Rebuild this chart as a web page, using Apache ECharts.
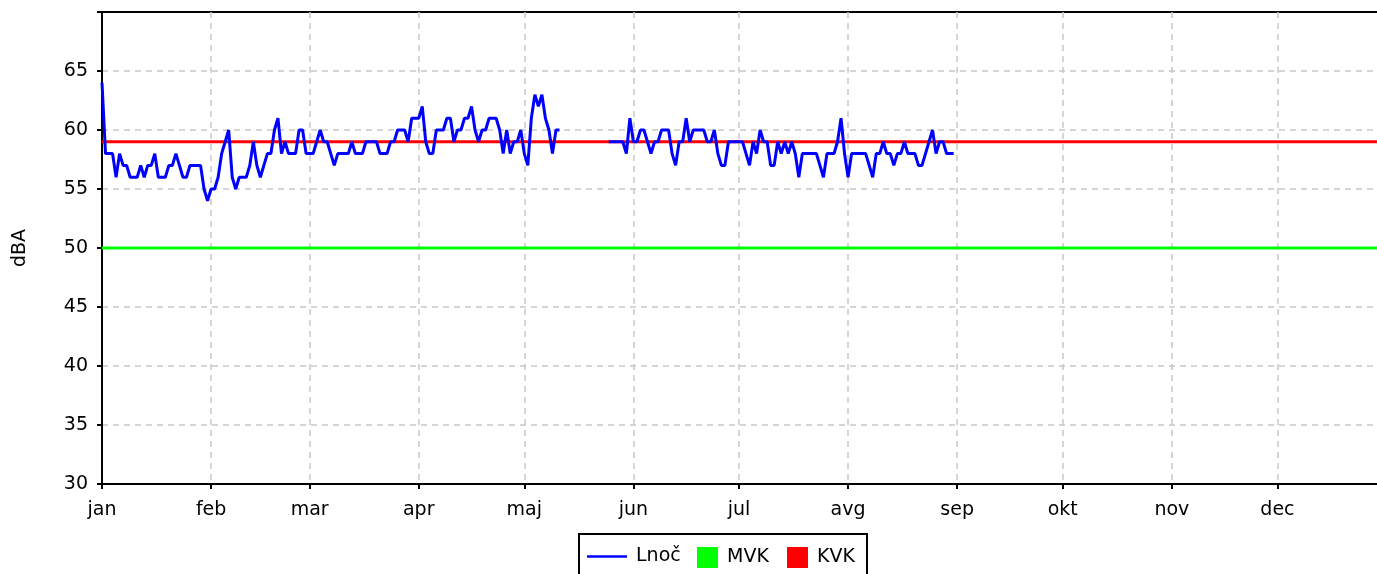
<!DOCTYPE html>
<html>
<head>
<meta charset="utf-8">
<script src="https://cdn.jsdelivr.net/npm/echarts@6/dist/echarts.min.js"></script>
<style>
  html, body { margin: 0; padding: 0; background: #ffffff; overflow: hidden; }
  #chart { width: 1377px; height: 574px; }
</style>
</head>
<body>
<div id="chart"></div>
<script>
// Month names (x-axis tick labels) and month lengths
const monthNames = ['jan', 'feb', 'mar', 'apr', 'maj', 'jun', 'jul', 'avg', 'sep', 'okt', 'nov', 'dec'];
const monthLengths = [31, 28, 31, 30, 31, 30, 31, 31, 30, 31, 30, 31];

// Daily night-time level Lnoč (dBA), one array per month; null = no measurement
const janVals = [64, 58, 58, 58, 56, 58, 57, 57, 56, 56, 56, 57, 56, 57, 57, 58, 56, 56, 56, 57, 57, 58, 57, 56, 56, 57, 57, 57, 57, 55, 54];
const febVals = [55, 55, 56, 58, 59, 60, 56, 55, 56, 56, 56, 57, 59, 57, 56, 57, 58, 58, 60, 61, 58, 59, 58, 58, 58, 60, 60, 58];
const marVals = [58, 58, 59, 60, 59, 59, 58, 57, 58, 58, 58, 58, 59, 58, 58, 58, 59, 59, 59, 59, 58, 58, 58, 59, 59, 60, 60, 60, 59, 61, 61];
const aprVals = [61, 62, 59, 58, 58, 60, 60, 60, 61, 61, 59, 60, 60, 61, 61, 62, 60, 59, 60, 60, 61, 61, 61, 60, 58, 60, 58, 59, 59, 60];
const majVals = [58, 57, 61, 63, 62, 63, 61, 60, 58, 60, 60,
                 null, null, null, null, null, null, null, null, null, null, null, null, null,
                 59, 59, 59, 59, 59, 58, 61];
const junVals = [59, 59, 60, 60, 59, 58, 59, 59, 60, 60, 60, 58, 57, 59, 59, 61, 59, 60, 60, 60, 60, 59, 59, 60, 58, 57, 57, 59, 59, 59];
const julVals = [59, 59, 58, 57, 59, 58, 60, 59, 59, 57, 57, 59, 58, 59, 58, 59, 58, 56, 58, 58, 58, 58, 58, 57, 56, 58, 58, 58, 59, 61, 58];
const avgVals = [56, 58, 58, 58, 58, 58, 57, 56, 58, 58, 59, 58, 58, 57, 58, 58, 59, 58, 58, 58, 57, 57, 58, 59, 60, 58, 59, 59, 58, 58, 58];
const sepVals = [];
const oktVals = [];
const novVals = [];
const decVals = [];

// Limit values (dBA)
const mvkLimit = 50;
const kvkLimit = 59;

// Y axis scale
const yMin = 30;
const yMax = 70;
const yStep = 5;

const monthVals = [janVals, febVals, marVals, aprVals, majVals, junVals, julVals, avgVals, sepVals, oktVals, novVals, decVals];

// Build one category per day of the year
const days = [];
const dayLabel = {};
const monthStart = new Set();
const lnoc = [];
monthLengths.forEach((len, m) => {
  for (let d = 1; d <= len; d++) {
    const key = d + '. ' + monthNames[m];
    if (d === 1) { monthStart.add(days.length); dayLabel[key] = monthNames[m]; }
    days.push(key);
    const v = monthVals[m][d - 1];
    lnoc.push(v === undefined ? null : v);
  }
});
const mvkLine = days.map(() => mvkLimit);
const kvkLine = days.map(() => kvkLimit);

const isMonthStart = (idx) => monthStart.has(idx);
const font = 'DejaVu Sans';
const fs = 19;
const gridLine = { color: '#c8c8c8', width: 1.5, type: [6, 5] };
const legendText = { color: '#000000', fontSize: fs, fontFamily: font, padding: [0, 0, 0, 4] };

const chart = echarts.init(document.getElementById('chart'), null, { renderer: 'canvas' });
chart.setOption({
  animation: false,
  backgroundColor: '#ffffff',
  textStyle: { fontFamily: font },
  grid: {
    left: 102, top: 12, height: 472, width: 1281, outerBoundsMode: 'none', containLabel: false,
    show: true, borderColor: '#000000', borderWidth: 2, backgroundColor: 'transparent'
  },
  xAxis: {
    type: 'category',
    data: days,
    boundaryGap: false,
    axisLine: { show: true, lineStyle: { color: '#000000', width: 2 } },
    axisTick: { show: true, length: 5, interval: isMonthStart, lineStyle: { color: '#000000', width: 2 } },
    axisLabel: {
      interval: isMonthStart,
      formatter: (v) => dayLabel[v] || '',
      color: '#000000', fontSize: fs, fontFamily: font, margin: 17
    },
    splitLine: { show: true, interval: isMonthStart, lineStyle: gridLine }
  },
  yAxis: {
    type: 'value',
    min: yMin, max: yMax, interval: yStep,
    name: 'dBA',
    nameLocation: 'middle',
    nameGap: 72,
    nameRotate: 90,
    nameTextStyle: { color: '#000000', fontSize: fs, fontFamily: font },
    axisLine: { show: true, lineStyle: { color: '#000000', width: 2 } },
    axisTick: { show: true, length: 5, lineStyle: { color: '#000000', width: 2 } },
    axisLabel: {
      color: '#000000', fontSize: fs, fontFamily: font, margin: 14,
      formatter: (v) => (v >= yMax ? '' : String(v))
    },
    splitLine: { show: true, showMaxLine: false, lineStyle: gridLine }
  },
  legend: [
    {
      data: [{ name: 'Lnoč', icon: 'path://M0,0 L40,0 L40,2.5 L0,2.5 Z' }],
      left: 587, top: 547, padding: 0, itemWidth: 40, itemHeight: 21,
      selectedMode: false, textStyle: legendText
    },
    {
      data: [{ name: 'MVK', icon: 'rect' }], left: 697, top: 547, padding: 0, itemWidth: 21, itemHeight: 21,
      selectedMode: false, textStyle: legendText
    },
    {
      data: [{ name: 'KVK', icon: 'rect' }], left: 787, top: 547, padding: 0, itemWidth: 21, itemHeight: 21,
      selectedMode: false, textStyle: legendText
    }
  ],
  graphic: [
    {
      // legend frame
      type: 'rect', left: 578, top: 533, z: 100,
      shape: { width: 288, height: 60 },
      style: { fill: 'transparent', stroke: '#000000', lineWidth: 2 }
    }
  ],
  series: [
    {
      name: 'MVK', type: 'line', data: mvkLine, symbol: 'none', silent: true,
      color: '#00ff00', lineStyle: { color: '#00ff00', width: 3 }, z: 2
    },
    {
      name: 'KVK', type: 'line', data: kvkLine, symbol: 'none', silent: true,
      color: '#ff0000', lineStyle: { color: '#ff0000', width: 3 }, z: 3
    },
    {
      name: 'Lnoč', type: 'line', data: lnoc, symbol: 'none', showSymbol: false,
      connectNulls: false,
      color: '#0000ff', lineStyle: { color: '#0000ff', width: 3 }, z: 4
    }
  ]
});
</script>
</body>
</html>
